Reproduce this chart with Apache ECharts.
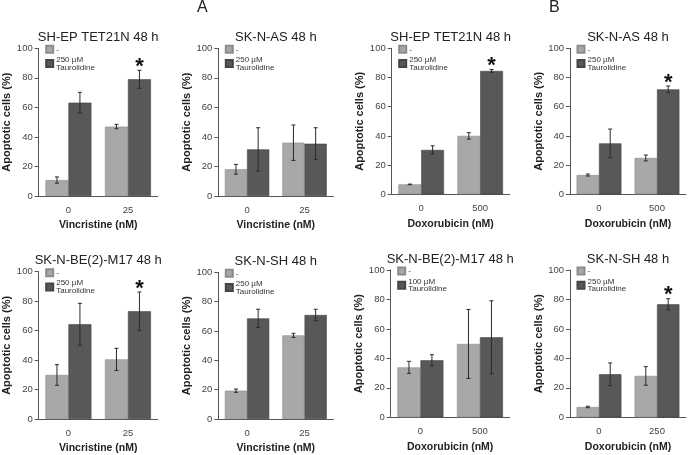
<!DOCTYPE html>
<html>
<head>
<meta charset="utf-8">
<script src="https://cdn.jsdelivr.net/npm/echarts@6/dist/echarts.min.js"></script>
<style>html,body{margin:0;padding:0;background:#fff}#c{width:689px;height:455px}</style>
</head>
<body>
<div id="c"></div>
<script>
// ---- data ----
const panelTitles = ['SH-EP TET21N 48 h','SK-N-AS 48 h','SH-EP TET21N 48 h','SK-N-AS 48 h',
                     'SK-N-BE(2)-M17 48 h','SK-N-SH 48 h','SK-N-BE(2)-M17 48 h','SK-N-SH 48 h'];
const xAxisNames = ['Vincristine (nM)','Vincristine (nM)','Doxorubicin (nM)','Doxorubicin (nM)',
                    'Vincristine (nM)','Vincristine (nM)','Doxorubicin (nM)','Doxorubicin (nM)'];
const catsVincristine = ['0','25'];
const catsDoxo500 = ['0','500'];
const catsDoxo250 = ['0','250'];
const controlName = '-';
const taur250Name = '250 µM\nTaurolidine';
const taur100Name = '100 µM\nTaurolidine';
const yTicks = [0,20,40,60,80,100];

const p1Control = [10.8, 47.0], p1ControlErr = [2.1, 1.5], p1Taur = [63.2, 79.0], p1TaurErr = [7.0, 6.1], p1Sig = [0, 1];
const p2Control = [18.1, 36.1], p2ControlErr = [3.3, 12.0], p2Taur = [31.6, 35.4], p2TaurErr = [14.6, 10.8], p2Sig = [0, 0];
const p3Control = [6.8, 40.0], p3ControlErr = [0.2, 2.2], p3Taur = [30.4, 84.5], p3TaurErr = [2.8, 1.0], p3Sig = [0, 1];
const p4Control = [13.2, 24.9], p4ControlErr = [0.7, 2.0], p4Taur = [34.9, 71.9], p4TaurErr = [9.8, 2.3], p4Sig = [0, 1];
const p5Control = [29.9, 40.5], p5ControlErr = [7.0, 7.5], p5Taur = [64.3, 73.1], p5TaurErr = [14.2, 13.1], p5Sig = [0, 1];
const p6Control = [19.3, 57.0], p6ControlErr = [1.1, 1.4], p6Taur = [68.6, 70.9], p6TaurErr = [6.2, 3.9], p6Sig = [0, 0];
const p7Control = [33.9, 49.8], p7ControlErr = [4.1, 23.4], p7Taur = [38.7, 54.3], p7TaurErr = [3.8, 24.8], p7Sig = [0, 0];
const p8Control = [7.0, 28.1], p8ControlErr = [0.5, 6.3], p8Taur = [29.2, 76.7], p8TaurErr = [7.7, 3.8], p8Sig = [0, 1];

// ---- layout (px) ----
const grids = [
  {left: 38.7, top: 48.3, width: 119, height: 147.7},
  {left: 218.3, top: 48.3, width: 115, height: 147.7},
  {left: 391.7, top: 48.3, width: 118, height: 146},
  {left: 570, top: 48.3, width: 116, height: 146},
  {left: 38.7, top: 271.7, width: 119, height: 147.3},
  {left: 218.3, top: 272.3, width: 115, height: 146.7},
  {left: 390.7, top: 270, width: 119, height: 147.3},
  {left: 570, top: 270, width: 116, height: 147.3}
];
const panels = [
  {cats: catsVincristine, c: p1Control, ce: p1ControlErr, t: p1Taur, te: p1TaurErr, sig: p1Sig, tn: taur250Name},
  {cats: catsVincristine, c: p2Control, ce: p2ControlErr, t: p2Taur, te: p2TaurErr, sig: p2Sig, tn: taur250Name},
  {cats: catsDoxo500, c: p3Control, ce: p3ControlErr, t: p3Taur, te: p3TaurErr, sig: p3Sig, tn: taur250Name},
  {cats: catsDoxo500, c: p4Control, ce: p4ControlErr, t: p4Taur, te: p4TaurErr, sig: p4Sig, tn: taur250Name},
  {cats: catsVincristine, c: p5Control, ce: p5ControlErr, t: p5Taur, te: p5TaurErr, sig: p5Sig, tn: taur250Name},
  {cats: catsVincristine, c: p6Control, ce: p6ControlErr, t: p6Taur, te: p6TaurErr, sig: p6Sig, tn: taur250Name},
  {cats: catsDoxo500, c: p7Control, ce: p7ControlErr, t: p7Taur, te: p7TaurErr, sig: p7Sig, tn: taur100Name},
  {cats: catsDoxo250, c: p8Control, ce: p8ControlErr, t: p8Taur, te: p8TaurErr, sig: p8Sig, tn: taur250Name}
];

const FONT = '"Liberation Sans", Arial, sans-serif';
const LIGHT = '#a8a8aa', DARK = '#58585a', AXIS = '#555';
const BAR_FRAC = 0.386;

const option = {
  animation: false,
  backgroundColor: '#fff',
  textStyle: {fontFamily: FONT},
  title: [],
  legend: [],
  grid: [],
  xAxis: [],
  yAxis: [],
  series: [],
  graphic: [
    {type: 'text', left: 197, top: 0, style: {text: 'A', font: '16px ' + FONT, fill: '#222'}},
    {type: 'text', left: 549, top: 0, style: {text: 'B', font: '16px ' + FONT, fill: '#222'}}
  ]
};

panels.forEach((p, i) => {
  const g = grids[i];
  option.grid.push({left: g.left, top: g.top, width: g.width, height: g.height, containLabel: false});
  option.title.push({
    text: panelTitles[i], left: g.left + g.width / 2, top: g.top - 17.5, padding: 0, textAlign: 'center',
    textStyle: {fontFamily: FONT, fontSize: 13, fontWeight: 'normal', color: '#222'}
  });
  option.legend.push({
    left: g.left + 6.5, top: g.top - 3.5, orient: 'vertical', padding: 0, itemGap: 2,
    itemWidth: 7, itemHeight: 7, icon: 'rect', selectedMode: false,
    data: [controlName, p.tn],
    textStyle: {fontFamily: FONT, fontSize: 8, lineHeight: 7.5, color: '#333', padding: [0, 0, 0, -2]}
  });
  option.xAxis.push({
    type: 'category', gridIndex: i, data: p.cats,
    name: xAxisNames[i], nameLocation: 'middle', nameGap: 24,
    nameTextStyle: {fontFamily: FONT, fontSize: 10.5, fontWeight: 'bold', color: '#222'},
    axisLine: {lineStyle: {color: AXIS, width: 1}},
    axisTick: {alignWithLabel: true, length: 4, lineStyle: {color: AXIS}},
    axisLabel: {fontFamily: FONT, fontSize: 9.5, color: '#444', margin: 9},
    splitLine: {show: false}
  });
  option.yAxis.push({
    type: 'value', gridIndex: i, min: 0, max: 100, interval: 20,
    name: 'Apoptotic cells (%)', nameLocation: 'middle', nameGap: 26,
    nameTextStyle: {fontFamily: FONT, fontSize: 11, fontWeight: 'bold', color: '#222'},
    axisLine: {show: true, lineStyle: {color: AXIS, width: 1}},
    axisTick: {show: true, length: 4, lineStyle: {color: AXIS}},
    axisLabel: {fontFamily: FONT, fontSize: 9.5, color: '#444', margin: 6},
    splitLine: {show: false}
  });
  option.series.push({
    type: 'bar', name: controlName, xAxisIndex: i, yAxisIndex: i, data: p.c,
    barWidth: (BAR_FRAC * 100) + '%', barGap: '0%',
    itemStyle: {color: LIGHT, borderColor: '#8c8c8e', borderWidth: 0.6}
  });
  option.series.push({
    type: 'bar', name: p.tn, xAxisIndex: i, yAxisIndex: i, data: p.t,
    barWidth: (BAR_FRAC * 100) + '%', barGap: '0%',
    itemStyle: {color: DARK, borderColor: '#454547', borderWidth: 0.6}
  });
  const errData = [];
  p.cats.forEach((c, k) => {
    errData.push([k, p.c[k], p.ce[k], 0, 0]);
    errData.push([k, p.t[k], p.te[k], 1, p.sig[k]]);
  });
  option.series.push({
    type: 'custom', xAxisIndex: i, yAxisIndex: i, data: errData, z: 10, silent: true,
    renderItem: function (params, api) {
      const k = api.value(0), m = api.value(1), e = api.value(2), s = api.value(3), sig = api.value(4);
      const band = api.size([1, 0])[0];
      const bw = band * BAR_FRAC;
      const cx = api.coord([k, m])[0] + (s === 0 ? -bw / 2 : bw / 2);
      const yt = api.coord([k, m + e])[1];
      const yb = api.coord([k, m - e])[1];
      const cap = 2;
      const st = {stroke: '#2a2a2a', lineWidth: 1};
      const children = [
        {type: 'line', shape: {x1: cx, y1: yt, x2: cx, y2: yb}, style: st},
        {type: 'line', shape: {x1: cx - cap, y1: yt, x2: cx + cap, y2: yt}, style: st},
        {type: 'line', shape: {x1: cx - cap, y1: yb, x2: cx + cap, y2: yb}, style: st}
      ];
      if (sig) {
        children.push({type: 'text', x: cx, y: yt - 3.5,
          style: {text: '*', font: 'bold 22px ' + FONT, fill: '#111', align: 'center', verticalAlign: 'middle'}});
      }
      return {type: 'group', children: children};
    }
  });
});

const chart = echarts.init(document.getElementById('c'), null, {renderer: 'canvas'});
chart.setOption(option);
</script>
</body>
</html>
